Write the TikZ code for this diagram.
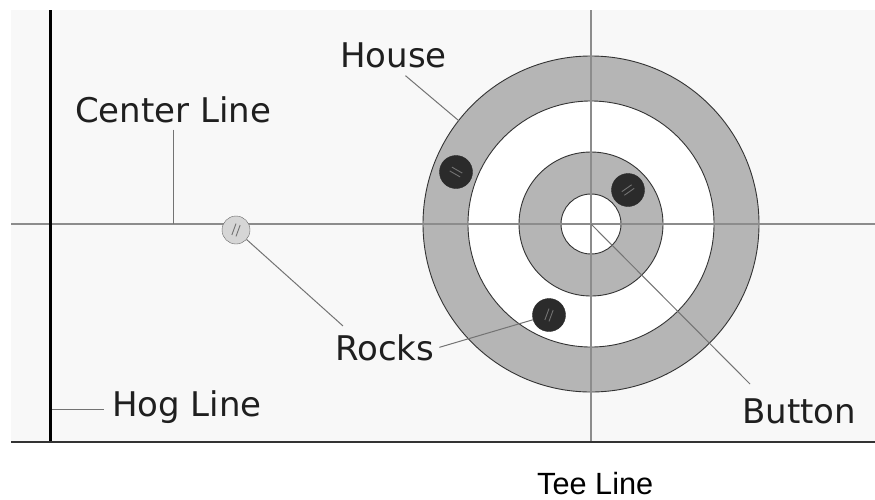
\documentclass[tikz,border=0pt]{standalone}
\usepackage{fontspec}
\setmainfont{DejaVu Sans}
\newfontfamily\teefont{Liberation Sans}
\definecolor{sheet}{HTML}{F8F8F8}
\definecolor{ringgray}{HTML}{B5B5B5}
\definecolor{stone}{HTML}{2B2B2B}
\definecolor{lightstone}{HTML}{D6D6D6}
\tikzset{
  lbl/.style={inner sep=0pt, anchor=base west, text=black!88, font=\fontsize{34}{40}\selectfont},
  leader/.style={draw=black!55, line width=1pt},
  disc/.style={circle, draw=black!80, line width=0.9pt, inner sep=0pt, outer sep=0pt},
  rock/.style={circle, draw=black!85, fill=stone, minimum size=33pt, inner sep=0pt},
  lightrock/.style={circle, draw=black!60, fill=lightstone, minimum size=28pt, inner sep=0pt},
  rockmark/.style={draw=black!55, line width=0.9pt}
}
\begin{document}
\begin{tikzpicture}[x=1pt,y=-1pt]
\useasboundingbox (0,0) rectangle (875,499);
\fill[sheet] (11,10) rectangle (875,442);
\coordinate (tee) at (591,224);
\node[disc, fill=ringgray, minimum size=336pt] (house12) at (tee) {};
\node[disc, fill=white, minimum size=246pt] (house8) at (tee) {};
\node[disc, fill=ringgray, minimum size=144pt] (house4) at (tee) {};
\node[disc, fill=white, minimum size=60pt] (button) at (tee) {};
\draw[black!45, line width=1.3pt] (11,224) -- (875,224);
\draw[black!45, line width=1.3pt] (591,10) -- (591,442);
\draw[black, line width=3pt] (50,10) -- (50,442);
\draw[black!80, line width=2.5pt] (11,442) -- (875,442);
\node[rock] (r1) at (456,172) {};
\node[rock] (r2) at (628,190) {};
\node[rock] (r3) at (549,315) {};
\node[lightrock] (lr) at (236,230) {};
\foreach \r/\a in {r1/-30,r2/35,r3/70,lr/70}{
  \begin{scope}[shift={(\r.center)}, rotate=\a]
    \draw[rockmark] (-6pt,2.2pt) -- (6pt,2.2pt) (-6pt,-2.2pt) -- (6pt,-2.2pt);
  \end{scope}
}
\node[lbl] (centerlbl) at (75,122) {Center Line};
\node[lbl] (houselbl) at (340,67) {House};
\node[lbl] (rockslbl) at (335,360) {Rocks};
\node[lbl] (hoglbl) at (112,416) {Hog Line};
\node[lbl] (btnlbl) at (742,423) {Button};
\node[inner sep=0pt, anchor=base west, text=black, font=\teefont\fontsize{30.7}{36}\selectfont] (teelbl) at (537,494) {Tee Line};
\coordinate (hogpt) at (52,409);
\draw[leader] ([yshift=-7pt]centerlbl.south) -- (centerlbl.south |- tee);
\draw[leader] ([shift={(12pt,-8pt)}]houselbl.south) -- (house12.142);
\draw[leader] (lr) -- ([shift={(8pt,8pt)}]rockslbl.north west);
\draw[leader] ([xshift=5pt]rockslbl.east) -- (r3);
\draw[leader] (hogpt) -- ([xshift=-8pt]hogpt -| hoglbl.west);
\draw[leader] (tee) -- ([shift={(8pt,14pt)}]btnlbl.north west);
\end{tikzpicture}
\end{document}
